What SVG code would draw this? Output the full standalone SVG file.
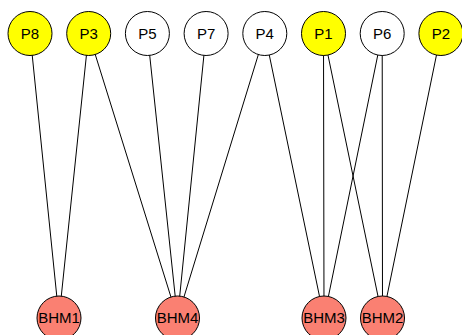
<svg xmlns="http://www.w3.org/2000/svg" width="462" height="335" viewBox="0 0 462 335">
<style>
.n circle{stroke:#000;stroke-width:1}
.p circle{fill:#fff}
.y circle{fill:#ffff00}
.b circle{fill:#fa8072}
.n text{font-family:"Liberation Sans",Arial,sans-serif;font-size:15px;text-anchor:middle;fill:#000}
#edges line{stroke:#000;stroke-width:1}
</style>
<rect width="462" height="335" fill="#fff"/>
<g id="edges">
<line x1="30" y1="33.5" x2="59" y2="318"/>
<line x1="88.7" y1="33.5" x2="59" y2="318"/>
<line x1="88.7" y1="33.5" x2="177.5" y2="318"/>
<line x1="147.4" y1="33.5" x2="177.5" y2="318"/>
<line x1="206.1" y1="33.5" x2="177.5" y2="318"/>
<line x1="264.8" y1="33.5" x2="177.5" y2="318"/>
<line x1="264.8" y1="33.5" x2="324" y2="318"/>
<line x1="323.5" y1="33.5" x2="324" y2="318"/>
<line x1="323.5" y1="33.5" x2="382.5" y2="318"/>
<line x1="382.2" y1="33.5" x2="324" y2="318"/>
<line x1="382.2" y1="33.5" x2="382.5" y2="318"/>
<line x1="440.9" y1="33.5" x2="382.5" y2="318"/>
</g>
<g id="P8" class="n y"><circle cx="30" cy="33.5" r="22"/><text x="30" y="38.8">P8</text></g>
<g id="P3" class="n y"><circle cx="88.7" cy="33.5" r="22"/><text x="88.7" y="38.8">P3</text></g>
<g id="P5" class="n p"><circle cx="147.4" cy="33.5" r="22"/><text x="147.4" y="38.8">P5</text></g>
<g id="P7" class="n p"><circle cx="206.1" cy="33.5" r="22"/><text x="206.1" y="38.8">P7</text></g>
<g id="P4" class="n p"><circle cx="264.8" cy="33.5" r="22"/><text x="264.8" y="38.8">P4</text></g>
<g id="P1" class="n y"><circle cx="323.5" cy="33.5" r="22"/><text x="323.5" y="38.8">P1</text></g>
<g id="P6" class="n p"><circle cx="382.2" cy="33.5" r="22"/><text x="382.2" y="38.8">P6</text></g>
<g id="P2" class="n y"><circle cx="440.9" cy="33.5" r="22"/><text x="440.9" y="38.8">P2</text></g>
<g id="BHM1" class="n b"><circle cx="59" cy="318" r="22"/><text x="59" y="323.3">BHM1</text></g>
<g id="BHM4" class="n b"><circle cx="177.5" cy="318" r="22"/><text x="177.5" y="323.3">BHM4</text></g>
<g id="BHM3" class="n b"><circle cx="324" cy="318" r="22"/><text x="324" y="323.3">BHM3</text></g>
<g id="BHM2" class="n b"><circle cx="382.5" cy="318" r="22"/><text x="382.5" y="323.3">BHM2</text></g>
</svg>
